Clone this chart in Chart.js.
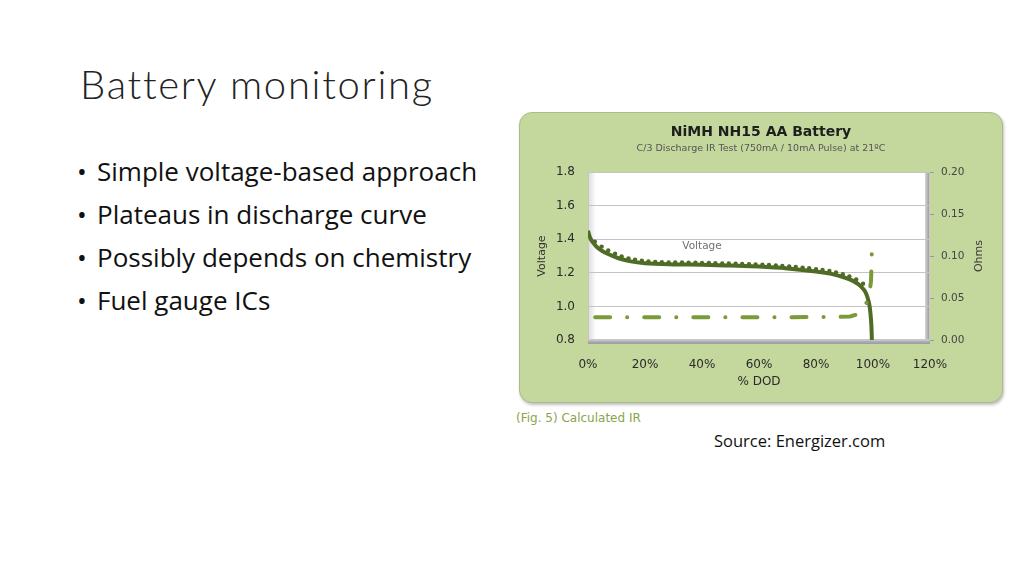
<!DOCTYPE html>
<html>
<head>
<meta charset="utf-8">
<script src="https://cdn.jsdelivr.net/npm/chart.js@4.4.1/dist/chart.umd.min.js"></script>
<style>
  body { margin: 0; background: #fff; }
  #slide { position: relative; width: 1024px; height: 576px; overflow: hidden; background: #fff; }
  #title { position: absolute; left: 80px; top: 60px; font: 300 40px/48px Lato, sans-serif; letter-spacing: 1.7px; color: #222; }
  .bullet { position: absolute; left: 77px; font: 26px/43px "Open Sans", sans-serif; color: #111; white-space: nowrap; }
  .bullet span { position: absolute; left: 20px; }
  #box { position: absolute; left: 519px; top: 112px; width: 484px; height: 291px; box-sizing: border-box;
         background: #c4d79c; border: 1.5px solid #a9bc8a; border-radius: 13px; box-shadow: 1px 2px 3px rgba(0,0,0,0.25); }
  #chartWrap { position: absolute; left: 519px; top: 112px; width: 484px; height: 291px; }
  #caption { position: absolute; left: 516px; top: 411px; font: 12px "DejaVu Sans", sans-serif; color: #8aa34d; }
  #source { position: absolute; left: 714px; top: 429px; font: 16.5px "Open Sans", sans-serif; color: #111; }
</style>
</head>
<body>
<div id="slide">
  <div id="title">Battery monitoring</div>
  <div class="bullet" style="top:150px">•<span>Simple voltage-based approach</span></div>
  <div class="bullet" style="top:193px">•<span>Plateaus in discharge curve</span></div>
  <div class="bullet" style="top:236px">•<span>Possibly depends on chemistry</span></div>
  <div class="bullet" style="top:279px">•<span>Fuel gauge ICs</span></div>
  <div id="box"></div>
  <div id="chartWrap"><canvas id="irChart" width="484" height="291"></canvas></div>
  <div id="caption">(Fig. 5) Calculated IR</div>
  <div id="source">Source: Energizer.com</div>
</div>
<script>
// Voltage under load (% depth of discharge -> volts)
const VOLT_DOD = [0, 0.5, 1, 2, 3, 5, 8, 11, 15, 20, 30, 40, 50, 60, 70, 80, 85, 90, 93, 95, 96.5, 97.5, 98.3, 98.9, 99.3, 99.5, 99.6];
const VOLT_V = [1.45, 1.42, 1.40, 1.375, 1.355, 1.33, 1.305, 1.285, 1.268, 1.257, 1.25, 1.248, 1.243, 1.237, 1.226, 1.208, 1.195, 1.172, 1.152, 1.13, 1.105, 1.08, 1.04, 0.99, 0.92, 0.86, 0.80];

// 10mA pulse readings (the little dots riding on the curve)
const PULSE_DOD = [2.4, 4.8, 7.1, 9.5, 11.8, 14.2, 16.5, 18.9, 21.2, 23.6, 25.9, 28.3, 30.6, 33, 35.3, 37.7, 40, 42.4, 44.7, 47.1, 49.4, 51.8, 54.1, 56.5, 58.8, 61.2, 63.5, 65.9, 68.2, 70.6, 72.9, 75.3, 77.6, 80, 82.3, 84.7, 87, 89.4, 91.7, 94.1, 96.5];
const PULSE_V = [1.385, 1.356, 1.333, 1.313, 1.297, 1.286, 1.278, 1.272, 1.268, 1.265, 1.263, 1.262, 1.261, 1.261, 1.26, 1.26, 1.259, 1.258, 1.257, 1.256, 1.255, 1.254, 1.253, 1.251, 1.25, 1.248, 1.246, 1.244, 1.241, 1.238, 1.235, 1.231, 1.227, 1.222, 1.217, 1.211, 1.202, 1.192, 1.179, 1.16, 1.135];

// Calculated internal resistance (ohms)
const OHM_DOD = [2.5, 10, 20, 30, 40, 50, 60, 70, 80, 88, 92, 94, 95.5, 96.5, 98.5, 99.3, 99.5, 99.6];
const OHM_R = [0.027, 0.027, 0.027, 0.027, 0.027, 0.027, 0.027, 0.027, 0.0275, 0.0275, 0.028, 0.03, 0.033, 0.036, 0.05, 0.07, 0.092, 0.11];

const X_TICKS = [0, 20, 40, 60, 80, 100, 120];

const DARK = '#4f6b25';
const LIGHT = '#7b9b39';
const TICK_FONT = { family: 'DejaVu Sans', size: 12 };

function pairs(xs, ys) {
  return xs.map((x, i) => ({ x: x, y: ys[i] }));
}

// white plot wall with the little 3D edges Excel draws
const plotWall = {
  id: 'plotWall',
  beforeDraw(chart) {
    const { ctx, chartArea: a } = chart;
    ctx.save();
    ctx.fillStyle = '#ffffff';
    ctx.fillRect(a.left, a.top, a.width, a.height);
    let g = ctx.createLinearGradient(a.left, 0, a.left + 8, 0);
    g.addColorStop(0, 'rgba(150,150,150,0.35)');
    g.addColorStop(1, 'rgba(150,150,150,0)');
    ctx.fillStyle = g;
    ctx.fillRect(a.left, a.top, 8, a.height);
    g = ctx.createLinearGradient(a.right - 5, 0, a.right, 0);
    g.addColorStop(0, '#d8d8d8');
    g.addColorStop(1, '#8e8e94');
    ctx.fillStyle = g;
    ctx.fillRect(a.right - 5, a.top, 5, a.height);
    g = ctx.createLinearGradient(0, a.bottom, 0, a.bottom + 4);
    g.addColorStop(0, '#b9b9bf');
    g.addColorStop(1, '#9a9aa2');
    ctx.fillStyle = g;
    ctx.fillRect(a.left, a.bottom, a.width, 4);
    ctx.strokeStyle = '#c8c8c8';
    ctx.lineWidth = 1;
    ctx.strokeRect(a.left + 0.5, a.top + 0.5, a.width - 1, a.height - 1);
    ctx.restore();
  }
};

// "Voltage" data label and the right-hand "Ohms" title (reads bottom to top)
const extraText = {
  id: 'extraText',
  afterDraw(chart) {
    const { ctx, chartArea: a, scales } = chart;
    ctx.save();
    ctx.fillStyle = '#707070';
    ctx.font = '10.5px "DejaVu Sans"';
    ctx.textAlign = 'center';
    ctx.textBaseline = 'middle';
    ctx.fillText('Voltage', scales.x.getPixelForValue(40), scales.y.getPixelForValue(1.36));
    ctx.fillStyle = '#3a3a3a';
    ctx.font = '11px "DejaVu Sans"';
    ctx.translate(460, (a.top + a.bottom) / 2);
    ctx.rotate(-Math.PI / 2);
    ctx.fillText('Ohms', 0, 0);
    ctx.restore();
  }
};

const ctx = document.getElementById('irChart').getContext('2d');
const irChart = new Chart(ctx, {
  type: 'line',
  data: {
    datasets: [
      {
        label: 'IR',
        data: pairs(OHM_DOD, OHM_R),
        yAxisID: 'y2',
        borderColor: LIGHT,
        borderWidth: 4,
        borderDash: [15, 17, 0.1, 17],
        borderCapStyle: 'round',
        pointRadius: 0,
        tension: 0
      },
      {
        label: 'Voltage',
        data: pairs(VOLT_DOD, VOLT_V),
        yAxisID: 'y',
        borderColor: DARK,
        borderWidth: 4,
        pointRadius: 0,
        cubicInterpolationMode: 'monotone'
      },
      {
        label: 'Pulse',
        data: pairs(PULSE_DOD, PULSE_V),
        yAxisID: 'y',
        showLine: false,
        pointRadius: 2.2,
        pointBackgroundColor: DARK,
        pointBorderWidth: 0
      }
    ]
  },
  options: {
    responsive: false,
    maintainAspectRatio: false,
    animation: false,
    layout: { padding: 0 },
    plugins: {
      legend: { display: false },
      tooltip: { enabled: false },
      title: {
        display: true,
        text: 'NiMH NH15 AA Battery',
        color: '#1e1e1e',
        font: { family: 'DejaVu Sans', size: 14, weight: 'bold' },
        padding: { top: 12, bottom: 2 }
      },
      subtitle: {
        display: true,
        text: 'C/3 Discharge IR Test (750mA / 10mA Pulse) at 21ºC',
        color: '#555555',
        font: { family: 'DejaVu Sans', size: 9.5 },
        padding: { top: 0.5, bottom: 17.3 }
      }
    },
    scales: {
      x: {
        type: 'linear',
        min: 0,
        max: 120,
        afterBuildTicks: s => { s.ticks = X_TICKS.map(v => ({ value: v })); },
        afterFit: s => { s.height = 63; },
        grid: { display: false },
        border: { display: false },
        ticks: { color: '#2a2a2a', font: TICK_FONT, padding: 10, maxRotation: 0, callback: v => v + '%' },
        title: { display: true, text: '% DOD', color: '#2a2a2a', font: TICK_FONT, padding: { top: 0, bottom: 14 } }
      },
      y: {
        position: 'left',
        min: 0.8,
        max: 1.8,
        afterFit: s => { s.width = 69; },
        grid: { color: '#c4c4c4', drawTicks: false },
        border: { display: false },
        ticks: { stepSize: 0.2, color: '#2a2a2a', font: TICK_FONT, padding: 13, callback: v => v.toFixed(1) },
        title: { display: true, text: 'Voltage', color: '#333', font: { family: 'DejaVu Sans', size: 11 }, padding: { top: 17, bottom: 0 } }
      },
      y2: {
        position: 'right',
        min: 0,
        max: 0.2,
        afterFit: s => { s.width = 73; },
        grid: { drawOnChartArea: false, drawTicks: true, tickLength: 4, color: '#9a9a9a' },
        border: { display: false },
        ticks: { stepSize: 0.05, color: '#444', font: { family: 'DejaVu Sans', size: 10.5 }, padding: 7, callback: v => v.toFixed(2) }
      }
    }
  },
  plugins: [plotWall, extraText]
});
</script>
</body>
</html>
